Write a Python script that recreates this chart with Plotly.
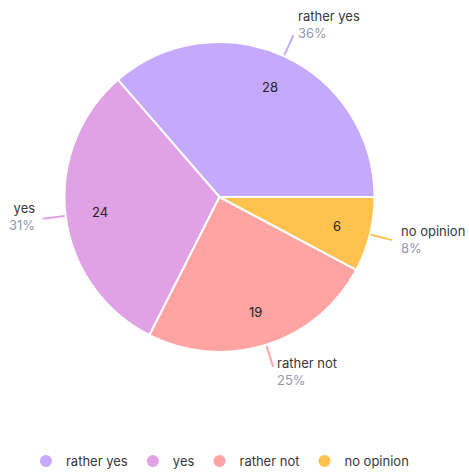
import math
import plotly.graph_objects as go

labels = ["rather yes", "yes", "rather not", "no opinion"]
values = [28, 24, 19, 6]
colors = ["#C5A9FD", "#E1A1E5", "#FFA3A3", "#FFC24F"]

W, H = 469, 472
CX, CY, R = 219.5, 197, 155  # pie centre / radius in px
FONT = "Inter"
LABEL_COLOR = "#383838"
PCT_COLOR = "#9497ad"

total = sum(values)
# first slice starts at 3 o'clock and runs counter-clockwise
first_rotation = 90 - values[0] / total * 360

fig = go.Figure()
fig.add_trace(go.Pie(
    labels=labels, values=values, sort=False, direction="counterclockwise",
    rotation=first_rotation, marker=dict(colors=colors, line=dict(color="white", width=2)),
    textinfo="none", showlegend=False, hoverinfo="label+value+percent",
    domain=dict(x=[(CX - R) / W, (CX + R) / W], y=[1 - (CY + R) / H, 1 - (CY - R) / H]),
))

for lab, col in zip(labels, colors):
    fig.add_trace(go.Scatter(x=[None], y=[None], mode="markers", name=lab,
                             marker=dict(symbol="circle", size=13, color=col)))


def px(x, y):
    return x / W, 1 - y / H


cum = 0.0
shapes, annotations = [], []
for lab, val, col in zip(labels, values, colors):
    mid = (cum + val / 2) / total * 2 * math.pi
    cum += val
    pct = round(val / total * 100)
    c, s = math.cos(mid), -math.sin(mid)  # s: screen-down component
    # value inside slice
    vx, vy = px(CX + 0.78 * R * c, CY + 0.78 * R * s)
    annotations.append(dict(xref="paper", yref="paper", x=vx, y=vy,
                            xanchor="center", yanchor="middle", showarrow=False, text=str(val),
                            font=dict(family=FONT, size=13, color="#222")))
    # leader line
    x0, y0 = px(CX + (R + 1) * c, CY + (R + 1) * s)
    x1, y1 = px(CX + (R + 23) * c, CY + (R + 23) * s)
    shapes.append(dict(type="line", xref="paper", yref="paper",
                       x0=x0, y0=y0, x1=x1, y1=y1, line=dict(color=col, width=2)))
    # outside label block (name + percentage)
    right = c >= 0
    ax = CX + (R + 31) * c + (-1 if right else 2)
    ay = CY + (R + 31) * s - 3
    tx, ty = px(ax, ay)
    annotations.append(dict(
        xref="paper", yref="paper", x=tx, y=ty,
        xanchor="left" if right else "right", yanchor="middle",
        align="left" if right else "right", showarrow=False,
        text=f"{lab}<br><span style='color:{PCT_COLOR}'>{pct}%</span>",
        font=dict(family=FONT, size=13, color=LABEL_COLOR)))

fig.update_layout(
    width=W, height=H, margin=dict(l=0, r=0, t=0, b=0, autoexpand=False),
    paper_bgcolor="white", plot_bgcolor="white",
    xaxis=dict(visible=False), yaxis=dict(visible=False),
    shapes=shapes, annotations=annotations,
    legend=dict(orientation="h", x=0.469, xanchor="center", y=1 - 461 / H, yanchor="middle",
                font=dict(family=FONT, size=13, color=LABEL_COLOR), itemsizing="constant"),
    font=dict(family=FONT),
)

fig.write_html("out.html", config={"displayModeBar": False},
               post_script="document.body.style.margin='0';")
